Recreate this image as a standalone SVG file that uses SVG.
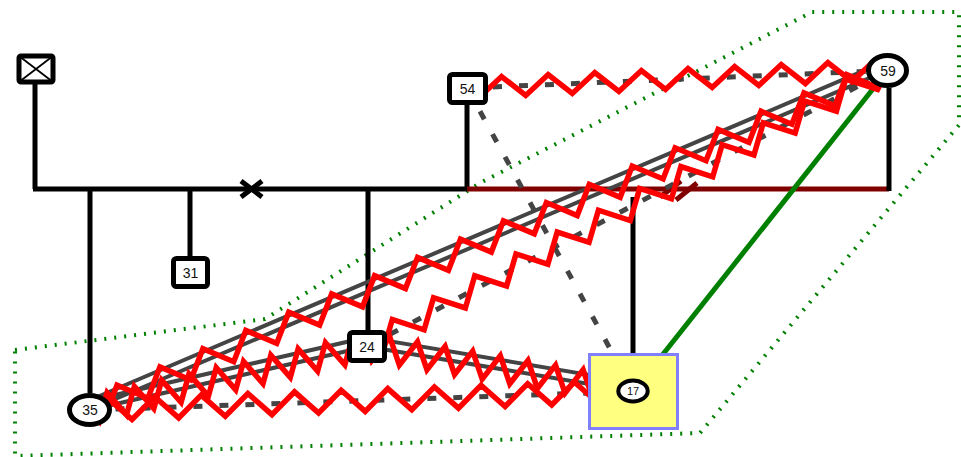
<svg xmlns="http://www.w3.org/2000/svg" width="961" height="457" viewBox="0 0 961 457">
<style>
.fam{stroke:#000;stroke-width:5;fill:none}
.mar{stroke:#800000;stroke-width:5;fill:none}
.gray{stroke:#444;stroke-width:4;fill:none}
.dash{stroke:#444;stroke-width:5;fill:none;stroke-dasharray:9 17}
.zz{stroke:#f00;stroke-width:5.5;fill:none;stroke-linejoin:miter}
.grn{stroke:#008000;stroke-width:5;fill:none}
.outline{stroke:#008000;stroke-width:4;fill:none;stroke-dasharray:2 8}
.box{fill:#fff;stroke:#000;stroke-width:5}
.lbl{font-family:"Liberation Sans",Arial,sans-serif;font-size:14px;fill:#111;text-anchor:middle}
</style>
<rect width="961" height="457" fill="#fff"/>
<g id="outline">
<polygon class="outline" points="15,350 265,319 480,183 812,12 959,12 959,125 700,433 15,456"/>
</g>
<g id="connectors">
<g id="family-lines">
<path class="fam" d="M35,84 V189 M467,105 V189 M90,189 V393 M190,189 V258 M368,189 V332 M633,197 V354 M33,189 H467"/>
<path class="mar" d="M467,189 H889"/>
<path class="fam" d="M889,88 V191"/>
<path class="mar" d="M660,197 L681,181 M676,200 L697,183"/>
<path class="fam" d="M241,181 L262,197 M241,197 L262,181"/>
</g>
<g id="relationships">
<path class="gray" transform="translate(89.5,410) rotate(-23.05)" d="M0,-9 H867.2 M0,0 H867.2"/>
<path class="gray" transform="translate(89.5,410) rotate(-12.89)" d="M0,-9 H284.67 M0,0 H284.67"/>
<path class="gray" transform="translate(367,346.5) rotate(9.585)" d="M0,-9 H270.27 M0,0 H270.27"/>
<path class="dash" d="M467,88 L887.5,70.5"/>
<path class="dash" d="M467.5,88.5 L633.5,391.5"/>
<path class="dash" d="M89.5,410 L633.5,391.5"/>
<path class="dash" d="M367,346.5 L887.5,70.5"/>
<path class="grn" d="M633.5,391.5 L887.5,70.5"/>
<path class="zz" transform="translate(467,88) rotate(-2.454)" d="M0,0 L11.67,10 l23.33,-20 l23.33,20 l23.33,-20 l23.33,20 l23.33,-20 l23.33,20 l23.33,-20 l23.33,20 l23.33,-20 l23.33,20 l23.33,-20 l23.33,20 l23.33,-20 l23.33,20 l23.33,-20 l23.33,20 l23.33,-20 L420.4,0"/>
<path class="zz" transform="translate(89.5,410) rotate(-2.002)" d="M0,0 L18.87,-11 l23.33,22 l23.33,-22 l23.33,22 l23.33,-22 l23.33,22 l23.33,-22 l23.33,22 l23.33,-22 l23.33,22 l23.33,-22 l23.33,22 l23.33,-22 l23.33,22 l23.33,-22 l23.33,22 l23.33,-22 l23.33,22 l23.33,-22 l23.33,22 l23.33,-22 l23.33,22 l23.33,-22 L543.8,0"/>
<path class="zz" transform="translate(89.5,410) rotate(-23.05)" d="M0,0 L11.67,12 l23.33,-24 l23.33,24 l23.33,-24 l23.33,24 l23.33,-24 l23.33,24 l23.33,-24 l23.33,24 l23.33,-24 l23.33,24 l23.33,-24 l23.33,24 l23.33,-24 l23.33,24 l23.33,-24 l23.33,24 l23.33,-24 l23.33,24 l23.33,-24 l23.33,24 l23.33,-24 l23.33,24 l23.33,-24 l23.33,24 l23.33,-24 l23.33,24 l23.33,-24 l23.33,24 l23.33,-24 l23.33,24 l23.33,-24 l23.33,24 l23.33,-24 l23.33,24 l23.33,-24 l23.33,24 L867.2,0"/>
<path class="zz" transform="translate(367,346.5) rotate(-27.93)" d="M0,0 L11.67,12 l23.33,-24 l23.33,24 l23.33,-24 l23.33,24 l23.33,-24 l23.33,24 l23.33,-24 l23.33,24 l23.33,-24 l23.33,24 l23.33,-24 l23.33,24 l23.33,-24 l23.33,24 l23.33,-24 l23.33,24 l23.33,-24 l23.33,24 l23.33,-24 l23.33,24 l23.33,-24 l23.33,24 l23.33,-24 l23.33,24 L589.15,0"/>
<path class="zz" transform="translate(89.5,410) rotate(-12.89)" d="M0,0 L7,13 l14,-26 l14,26 l14,-26 l14,26 l14,-26 l14,26 l14,-26 l14,26 l14,-26 l14,26 l14,-26 l14,26 l14,-26 l14,26 l14,-26 l14,26 l14,-26 l14,26 l14,-26 L284.67,0"/>
<path class="zz" transform="translate(367,346.5) rotate(9.585)" d="M0,0 L7,13 l14,-26 l14,26 l14,-26 l14,26 l14,-26 l14,26 l14,-26 l14,26 l14,-26 l14,26 l14,-26 l14,26 l14,-26 l14,26 l14,-26 l14,26 l14,-26 l14,26 L270.27,0"/>
</g>
</g>
<g id="node-unknown">
<rect class="box" x="19" y="56" width="34" height="26" rx="2" stroke-width="4"/>
<path d="M19,56 L53,82 M53,56 L19,82" stroke="#000" stroke-width="1.8"/>
</g>
<g id="node-54">
<rect class="box" x="449.5" y="74.5" width="36" height="28" rx="3"/>
<text class="lbl" x="467.5" y="94">54</text>
</g>
<g id="node-59">
<ellipse class="box" cx="887.5" cy="70.5" rx="19" ry="15"/>
<text class="lbl" x="888" y="76">59</text>
</g>
<g id="node-31">
<rect class="box" x="173.5" y="258.5" width="34" height="28" rx="3"/>
<text class="lbl" x="190.5" y="278">31</text>
</g>
<g id="node-24">
<rect class="box" x="349.5" y="332.5" width="35" height="28" rx="3"/>
<text class="lbl" x="367" y="352">24</text>
</g>
<g id="node-35">
<ellipse class="box" cx="89.5" cy="410" rx="20" ry="14.5"/>
<text class="lbl" x="90" y="415">35</text>
</g>
<g id="node-17">
<rect x="589.5" y="354.5" width="88" height="74" fill="#ffff80" stroke="#8080ff" stroke-width="3"/>
<ellipse cx="633" cy="391" rx="14.7" ry="10.5" fill="#fff" stroke="#000" stroke-width="4"/>
<text class="lbl" x="633" y="395" style="font-size:11px">17</text>
</g>
</svg>
